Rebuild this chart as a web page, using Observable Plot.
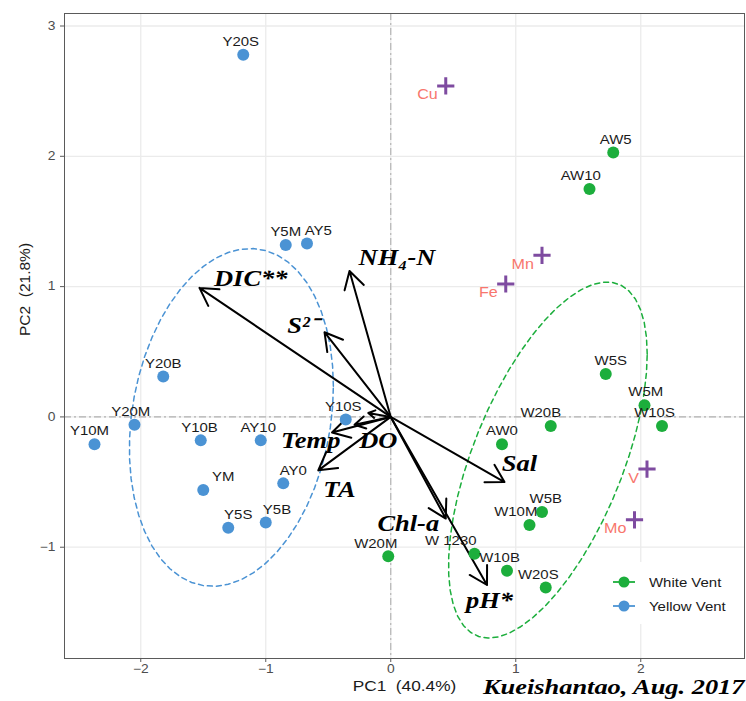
<!DOCTYPE html>
<html><head><meta charset="utf-8">
<script src="https://cdn.jsdelivr.net/npm/d3@7"></script>
<script src="https://cdn.jsdelivr.net/npm/@observablehq/plot@0.6"></script>
<style>
body{margin:0;background:#fff;}
#wrap{position:relative;width:746px;height:701px;}
.legend{position:absolute;left:600px;top:562px;width:142px;height:62px;background:#fff;font:13px "Liberation Sans",Arial,sans-serif;color:#1a1a1a;}
.legend .row{position:absolute;left:0;height:20px;display:flex;align-items:center;}
.legend .row svg{margin-right:8px;}
.legend .row span{display:inline-block;transform:scaleX(1.15);transform-origin:left center;}
</style></head>
<body><div id="wrap"></div>
<script>
// ---- Sample scores (Yellow Vent)
const yellowNames = ["Y20S","Y5M","AY5","Y20B","Y20M","Y10M","Y10B","AY10","YM","AY0","Y5S","Y5B","Y10S"];
const yellowPC1   = [-1.18,-0.84,-0.67,-1.82,-2.05,-2.37,-1.52,-1.04,-1.50,-0.86,-1.30,-1.00,-0.36];
const yellowPC2   = [ 2.78, 1.32, 1.33, 0.31,-0.06,-0.21,-0.18,-0.18,-0.56,-0.51,-0.85,-0.81,-0.02];
const yellowLabelShift = [-0.02,0,0.09,0,-0.03,-0.04,-0.01,-0.02,0.16,0.08,0.08,0.09,-0.02]; // label nudge along PC1
// ---- Sample scores (White Vent)
const whiteNames = ["AW5","AW10","W5S","W5M","W10S","W20B","AW0","W5B","W10M","W20M","W 1230","W10B","W20S"];
const whitePC1   = [1.78,1.59,1.72,2.03,2.17,1.28,0.89,1.21,1.11,-0.02,0.67,0.93,1.24];
const whitePC2   = [2.03,1.75,0.33,0.09,-0.07,-0.07,-0.21,-0.73,-0.83,-1.07,-1.05,-1.18,-1.31];
const whiteLabelShift = [0.02,-0.07,0.04,0.01,-0.06,-0.08,0,0.03,-0.11,-0.10,-0.19,-0.06,-0.06];
// ---- Metals
const metalNames = ["Cu","Mn","Fe","V","Mo"];
const metalPC1   = [0.44,1.21,0.92,2.05,1.95];
const metalPC2   = [2.54,1.24,1.02,-0.40,-0.79];
// ---- Environmental loadings
const varNames   = ["DIC**","NH\u2084-N","S\u00b2\u207b","Temp","DO","","TA","Sal","Chl-a","pH*"];
const varPC1     = [-1.53,-0.33,-0.53,-0.47,-0.29,-0.18,-0.58,0.91,0.44,0.77];
const varPC2     = [ 0.99, 1.12, 0.65,-0.12,-0.06, 0.03,-0.41,-0.50,-0.78,-1.29];
const varLabelPC1 = [-1.12,0.05,-0.70,-0.64,-0.10,null,-0.41,1.03,0.14,0.79];
const varLabelPC2 = [ 1.06,1.22, 0.70,-0.18,-0.18,null,-0.56,-0.36,-0.82,-1.41];
// ---- Axes / text
const xTicks = [-2,-1,0,1,2];
const yTicks = [-1,0,1,2,3];
const groups = ["White Vent","Yellow Vent"];
const xTitle = "PC1\u00a0 (40.4%)";
const yTitle = "PC2\u00a0 (21.8%)";
const caption = "Kueishantao, Aug. 2017";

const GREEN = "#1cae3c", BLUE = "#4b93d4", PURPLE = "#7e4ba0", SALMON = "#f8766d";

const yellow = yellowNames.map((n,i)=>({name:n,pc1:yellowPC1[i],pc2:yellowPC2[i],shift:yellowLabelShift[i],group:"Yellow Vent"}));
const white = whiteNames.map((n,i)=>({name:n,pc1:whitePC1[i],pc2:whitePC2[i],shift:whiteLabelShift[i],group:"White Vent"}));
const metals = metalNames.map((n,i)=>({name:n,pc1:metalPC1[i],pc2:metalPC2[i]}));
const loads = varNames.map((n,i)=>({name:n,pc1:varPC1[i],pc2:varPC2[i],lx:varLabelPC1[i],ly:varLabelPC2[i]}));

// stat_ellipse(type = "t", level = 0.68) : MASS::cov.trob + F-quantile radius
function covTrob(pts, nu=5, maxit=25, tol=0.01){
  const n=pts.length, p=2;
  let loc=[d3.mean(pts,d=>d[0]), d3.mean(pts,d=>d[1])];
  let w=pts.map(()=>1), X;
  for(let it=0; it<maxit; it++){
    const w0=w.slice();
    X=pts.map(d=>[d[0]-loc[0], d[1]-loc[1]]);
    const sw=d3.sum(w);
    let a=0,b=0,c=0;
    X.forEach((x,i)=>{a+=w[i]*x[0]*x[0]; b+=w[i]*x[0]*x[1]; c+=w[i]*x[1]*x[1];});
    a/=sw; b/=sw; c/=sw;
    const det=a*c-b*b;
    const Q=X.map(x=>(c*x[0]*x[0]-2*b*x[0]*x[1]+a*x[1]*x[1])/det);
    w=Q.map(q=>(nu+p)/(nu+q));
    const s2=d3.sum(w);
    loc=[d3.sum(pts,(d,i)=>w[i]*d[0])/s2, d3.sum(pts,(d,i)=>w[i]*d[1])/s2];
    if(w.every((wi,i)=>Math.abs(wi-w0[i])<tol)) break;
  }
  let a=0,b=0,c=0;
  X.forEach((x,i)=>{a+=w[i]*x[0]*x[0]; b+=w[i]*x[0]*x[1]; c+=w[i]*x[1]*x[1];});
  return {center:loc, cov:[a/n,b/n,c/n]};
}
function ellipse(rows, group, level=0.68, segments=51){
  const pts=rows.map(d=>[d.pc1,d.pc2]);
  const {center,cov}=covTrob(pts);
  const dfd=pts.length-1;
  const qf=(dfd/2)*(Math.pow(1-level,-2/dfd)-1); // qf(level, 2, dfd)
  const radius=Math.sqrt(2*qf);
  const r11=Math.sqrt(cov[0]), r12=cov[1]/r11, r22=Math.sqrt(cov[2]-r12*r12);
  return d3.range(segments+1).map(k=>{
    const t=k*2*Math.PI/segments, c=Math.cos(t), s=Math.sin(t);
    return {pc1:center[0]+radius*c*r11, pc2:center[1]+radius*(c*r12+s*r22), group};
  });
}
const ellipses=[...ellipse(white,"White Vent"),...ellipse(yellow,"Yellow Vent")];

const serifBI = {fontFamily:"'Liberation Serif','Times New Roman',serif", fontWeight:"bold", fontStyle:"italic"};
const fmt = d3.format("d");

const plot = Plot.plot({
  width:746, height:701,
  marginLeft:64, marginRight:2, marginTop:13, marginBottom:43,
  x:{domain:[-2.61,2.83]},
  y:{domain:[-1.854,3.096]},
  color:{domain:groups, range:[GREEN,BLUE]},
  style:{fontFamily:"'Liberation Sans',Arial,sans-serif", fontSize:"12px", color:"#4d4d4d", background:"#fff"},
  marks:[
    Plot.ruleX(xTicks,{stroke:"#ebebeb", strokeWidth:1.3}),
    Plot.ruleY(yTicks,{stroke:"#ebebeb", strokeWidth:1.3}),
    Plot.ruleX([0],{stroke:"#b0b0b0", strokeWidth:1.1, strokeDasharray:"7,3,2,3"}),
    Plot.ruleY([0],{stroke:"#b0b0b0", strokeWidth:1.1, strokeDasharray:"7,3,2,3"}),
    Plot.line(ellipses,{x:"pc1", y:"pc2", z:"group", stroke:"group", strokeWidth:1.5, strokeDasharray:"5,4"}),
    Plot.arrow(loads,{x1:0, y1:0, x2:"pc1", y2:"pc2", stroke:"#000", strokeWidth:2, headLength:15, headAngle:60}),
    Plot.dot(white,{x:"pc1", y:"pc2", r:6, fill:"group", stroke:"none"}),
    Plot.dot(yellow,{x:"pc1", y:"pc2", r:6, fill:"group", stroke:"none"}),
    Plot.dot(metals,{x:"pc1", y:"pc2", symbol:"plus", r:5.6, stroke:PURPLE, strokeWidth:3}),
    Plot.text(metals,{x:"pc1", y:"pc2", text:"name", dx:-8, dy:9, textAnchor:"end", fill:SALMON, fontSize:14}),
    Plot.text([...yellow,...white],{x:d=>d.pc1+d.shift, y:"pc2", text:"name", dy:-13, fill:"#1a1a1a", fontSize:13}),
    Plot.text(loads.filter(d=>d.name),{x:"lx", y:"ly", text:"name", fill:"#000", fontSize:23, ...serifBI}),
    Plot.frame({stroke:"#5a5a5a"}),
    Plot.axisX(xTicks,{tickSize:4, tickPadding:2, label:null, tickFormat:fmt, stroke:"#5a5a5a", fill:"#4d4d4d", fontSize:12}),
    Plot.axisY(yTicks,{tickSize:4, tickPadding:5, label:null, tickFormat:fmt, stroke:"#5a5a5a", fill:"#4d4d4d", fontSize:12}),
    Plot.text([xTitle],{frameAnchor:"bottom", dy:32, fill:"#1a1a1a", fontSize:15}),
    Plot.text([yTitle],{frameAnchor:"left", dx:-39, rotate:-90, fill:"#1a1a1a", fontSize:15.5}),
    Plot.text([caption],{frameAnchor:"bottom-right", dy:35, textAnchor:"end", fill:"#000", fontSize:22, className:"cap", ...serifBI})
  ]
});
const wrap=document.getElementById("wrap");
wrap.appendChild(plot);

// the reference rendering is horizontally stretched: widen glyphs a little
plot.querySelectorAll("text").forEach(t=>{
  if(t.getAttribute("transform") && /rotate/.test(t.getAttribute("transform"))) return;
  const L=t.getComputedTextLength();
  const k=t.closest(".cap")?1.2:1.15;
  if(L>0){ t.setAttribute("textLength", (L*k).toFixed(1)); t.setAttribute("lengthAdjust","spacingAndGlyphs"); }
});

// legend (inside plot panel, bottom-right)
const lg=document.createElement("div");
lg.className="legend";
groups.forEach((g,i)=>{
  const row=document.createElement("div");
  row.className="row";
  row.style.top=(10+i*24)+"px";
  const col=i===0?GREEN:BLUE;
  row.innerHTML=`<svg width="41" height="20"><line x1="13" x2="35" y1="10" y2="10" stroke="${col}" stroke-width="1.8"/><circle cx="24" cy="10" r="5.5" fill="${col}"/></svg><span>${g}</span>`;
  lg.appendChild(row);
});
wrap.appendChild(lg);
</script>
</body></html>
